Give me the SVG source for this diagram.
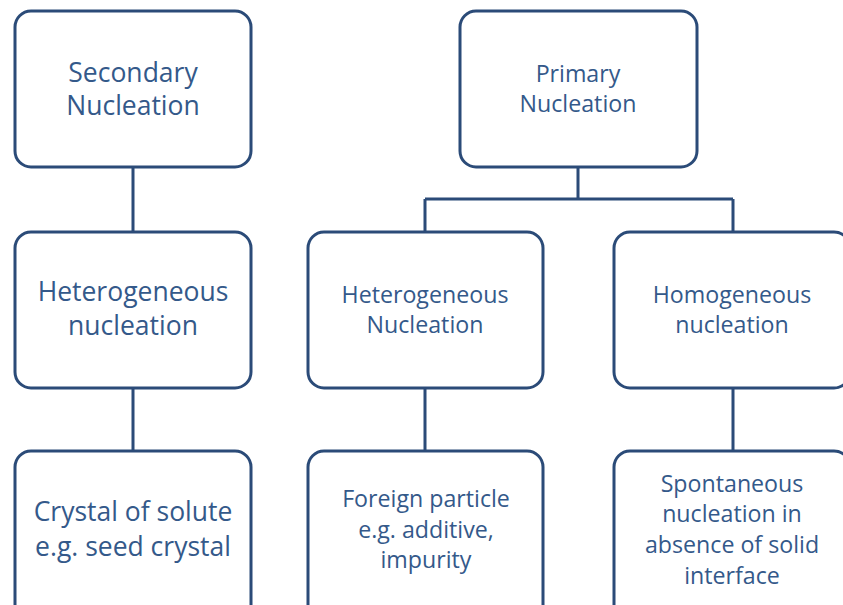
<svg xmlns="http://www.w3.org/2000/svg" width="843" height="605" viewBox="0 0 843 605">
<style>
.box{fill:#fff;stroke:#2b4b78;stroke-width:3}
.ln{stroke:#2b4b78;stroke-width:3;fill:none}
text{font-family:"Open Sans","Liberation Sans",sans-serif;fill:#34598a;text-anchor:middle}
.L{font-size:26.5px}
.M{font-size:23.2px}
</style>
<rect width="843" height="605" fill="#fff"/>
<g id="connectors">
<path class="ln" d="M133 167V232M133 388V451M578 167V199M425 199H733M425 199V232M733 199V232M425 388V451M733 388V451"/>
</g>
<g id="secondary"><rect class="box" x="15" y="11" width="236" height="156" rx="16"/>
<text class="L" x="133" y="82">Secondary</text><text class="L" x="133" y="115">Nucleation</text></g>
<g id="hetero-left"><rect class="box" x="15" y="232" width="236" height="156" rx="16"/>
<text class="L" x="133" y="301">Heterogeneous</text><text class="L" x="133" y="335">nucleation</text></g>
<g id="crystal"><rect class="box" x="15" y="451" width="236" height="170" rx="16"/>
<text class="L" x="133" y="521">Crystal of solute</text><text class="L" x="133" y="556">e.g. seed crystal</text></g>
<g id="primary"><rect class="box" x="460" y="11" width="237" height="156" rx="16"/>
<text class="M" x="578" y="82">Primary</text><text class="M" x="578" y="112">Nucleation</text></g>
<g id="hetero-mid"><rect class="box" x="308" y="232" width="235" height="156" rx="16"/>
<text class="M" x="425" y="303">Heterogeneous</text><text class="M" x="425" y="333">Nucleation</text></g>
<g id="homo"><rect class="box" x="614" y="232" width="236" height="156" rx="16"/>
<text class="M" x="732" y="303">Homogeneous</text><text class="M" x="732" y="333">nucleation</text></g>
<g id="foreign"><rect class="box" x="308" y="451" width="235" height="170" rx="16"/>
<text class="M" x="426" y="507">Foreign particle</text><text class="M" x="426" y="538">e.g. additive,</text><text class="M" x="426" y="568">impurity</text></g>
<g id="spont"><rect class="box" x="614" y="451" width="236" height="170" rx="16"/>
<text class="M" x="732" y="492">Spontaneous</text><text class="M" x="732" y="522">nucleation in</text><text class="M" x="732" y="553">absence of solid</text><text class="M" x="732" y="584">interface</text></g>
</svg>
